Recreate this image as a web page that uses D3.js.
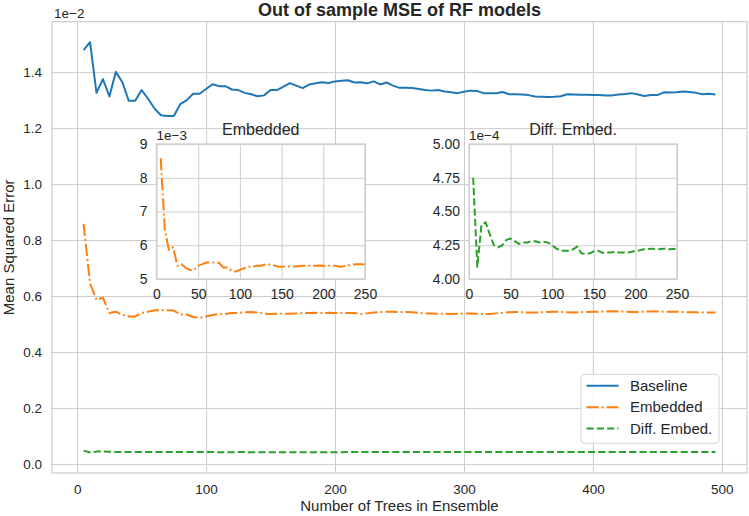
<!DOCTYPE html>
<html>
<head>
<meta charset="utf-8">
<script src="https://cdn.jsdelivr.net/npm/d3@7"></script>
<style>
  html, body { margin: 0; padding: 0; background: #fff; }
  svg { display: block; font-family: "Liberation Sans", Arial, sans-serif; }
</style>
</head>
<body>
<script>
// ---- Data ----
const trees = [5,10,15,20,25,30,35,40,45,50,55,60,65,70,75,80,85,90,95,100,
  105,110,115,120,125,130,135,140,145,150,155,160,165,170,175,180,185,190,195,200,
  205,210,215,220,225,230,235,240,245,250,255,260,265,270,275,280,285,290,295,300,
  305,310,315,320,325,330,335,340,345,350,355,360,365,370,375,380,385,390,395,400,
  405,410,415,420,425,430,435,440,445,450,455,460,465,470,475,480,485,490,495];

// Baseline MSE (x 1e-2)
const baselineE2 = [1.479,1.507,1.326,1.375,1.313,1.401,1.365,1.298,1.298,1.336,
  1.305,1.270,1.246,1.243,1.243,1.286,1.300,1.323,1.323,1.340,
  1.357,1.350,1.350,1.338,1.336,1.326,1.321,1.314,1.317,1.336,
  1.336,1.348,1.361,1.352,1.343,1.356,1.360,1.364,1.361,1.367,
  1.369,1.371,1.363,1.364,1.360,1.367,1.356,1.363,1.352,1.344,
  1.344,1.343,1.340,1.336,1.334,1.336,1.331,1.328,1.325,1.330,
  1.334,1.333,1.325,1.325,1.325,1.329,1.321,1.321,1.320,1.318,
  1.313,1.312,1.311,1.312,1.314,1.321,1.320,1.319,1.319,1.318,
  1.318,1.317,1.317,1.320,1.322,1.325,1.320,1.315,1.318,1.318,
  1.328,1.327,1.328,1.331,1.329,1.326,1.321,1.323,1.320];

// Embedded MSE (x 1e-3)
const embeddedE3 = [8.58,6.45,5.86,5.94,5.39,5.44,5.33,5.27,5.27,5.39,
  5.44,5.49,5.49,5.49,5.48,5.34,5.34,5.25,5.22,5.27,
  5.32,5.36,5.36,5.39,5.39,5.42,5.43,5.41,5.37,5.36,
  5.37,5.37,5.37,5.38,5.39,5.39,5.40,5.39,5.40,5.39,
  5.39,5.39,5.39,5.36,5.38,5.41,5.43,5.44,5.44,5.43,
  5.43,5.42,5.40,5.38,5.38,5.37,5.37,5.36,5.37,5.38,
  5.38,5.37,5.36,5.36,5.38,5.40,5.42,5.43,5.42,5.41,
  5.41,5.42,5.43,5.44,5.43,5.42,5.41,5.42,5.43,5.44,
  5.44,5.45,5.46,5.45,5.44,5.43,5.43,5.44,5.45,5.45,
  5.44,5.44,5.44,5.43,5.42,5.42,5.41,5.41,5.41];

// Diff. Embed. MSE (x 1e-4)
const diffEmbedE4 = [4.75,4.09,4.40,4.42,4.33,4.25,4.235,4.25,4.29,4.30,
  4.28,4.26,4.27,4.27,4.28,4.28,4.27,4.275,4.27,4.25,
  4.225,4.21,4.21,4.21,4.22,4.24,4.19,4.185,4.19,4.205,
  4.21,4.195,4.195,4.197,4.20,4.197,4.197,4.195,4.20,4.21,
  4.212,4.22,4.222,4.225,4.22,4.222,4.225,4.22,4.222,4.222,
  4.222,4.224,4.223,4.225,4.224,4.222,4.221,4.223,4.224,4.225,
  4.226,4.225,4.224,4.223,4.222,4.222,4.223,4.224,4.225,4.224,
  4.223,4.222,4.222,4.221,4.222,4.223,4.224,4.225,4.224,4.223,
  4.222,4.223,4.224,4.224,4.223,4.222,4.221,4.222,4.223,4.224,
  4.224,4.223,4.222,4.222,4.223,4.224,4.223,4.222,4.222];

const seriesNames = ["Baseline", "Embedded", "Diff. Embed."];
const mainXTicks = [0, 100, 200, 300, 400, 500];
const mainYTicks = [0.0, 0.2, 0.4, 0.6, 0.8, 1.0, 1.2, 1.4];   // x 1e-2
const embYTicks = [5, 6, 7, 8, 9];                               // x 1e-3
const diffYTicks = [4.00, 4.25, 4.50, 4.75, 5.00];               // x 1e-4
const insetXTicks = [0, 50, 100, 150, 200, 250];

// ---- Derived actual values ----
const baseline = baselineE2.map(v => v * 1e-2);
const embedded = embeddedE3.map(v => v * 1e-3);
const diffEmbed = diffEmbedE4.map(v => v * 1e-4);

const colors = ["#1f77b4", "#ff7f0e", "#2ca02c"];
const dashes = [null, "12.2,3,1.9,3", "7.2,3.1"];
const textColor = "#262626";
const gridColor = "#cccccc";
const font = '"Liberation Sans", Arial, sans-serif';

const W = 749, H = 516;
const svg = d3.select("body").append("svg").attr("width", W).attr("height", H);
svg.append("rect").attr("width", W).attr("height", H).attr("fill", "#fff");

const defs = svg.append("defs");

// ---- Main axes ----
const M = { left: 52, right: 747, top: 21.7, bottom: 473 };
const xPad = (d3.max(trees) - d3.min(trees)) * 0.05;
const x = d3.scaleLinear().domain([d3.min(trees) - xPad, d3.max(trees) + xPad]).range([M.left, M.right]);
const allVals = baseline.concat(embedded, diffEmbed);
const yMin = d3.min(allVals), yMax = d3.max(allVals), yPad = (yMax - yMin) * 0.05;
const y = d3.scaleLinear().domain([yMin - yPad, yMax + yPad]).range([M.bottom, M.top]);

const main = svg.append("g");
// grid
main.append("g").attr("transform", `translate(0,${M.bottom})`)
  .call(d3.axisBottom(x).tickValues(mainXTicks).tickSize(-(M.bottom - M.top)).tickFormat(d => d3.format("d")(d)).tickPadding(11))
  .call(g => g.select(".domain").remove())
  .call(g => g.selectAll(".tick line").attr("stroke", gridColor).attr("stroke-width", 1))
  .call(g => g.selectAll(".tick text").attr("fill", textColor).style("font-size", "13.5px").style("font-family", font));
main.append("g").attr("transform", `translate(${M.left},0)`)
  .call(d3.axisLeft(y).tickValues(mainYTicks.map(v => v * 1e-2)).tickSize(-(M.right - M.left)).tickFormat(d => d3.format(".1f")(d / 1e-2)).tickPadding(10))
  .call(g => g.select(".domain").remove())
  .call(g => g.selectAll(".tick line").attr("stroke", gridColor).attr("stroke-width", 1))
  .call(g => g.selectAll(".tick text").attr("fill", textColor).style("font-size", "13.5px").style("font-family", font));
// spines
main.append("rect").attr("x", M.left).attr("y", M.top).attr("width", M.right - M.left).attr("height", M.bottom - M.top)
  .attr("fill", "none").attr("stroke", gridColor).attr("stroke-width", 1.2);

defs.append("clipPath").attr("id", "clipMain").append("rect")
  .attr("x", M.left).attr("y", M.top).attr("width", M.right - M.left).attr("height", M.bottom - M.top);

const mainSeries = [baseline, embedded, diffEmbed];
const lineMain = d3.line().x((d, i) => x(trees[i])).y(d => y(d));
mainSeries.forEach((s, k) => {
  main.append("path").datum(s).attr("clip-path", "url(#clipMain)")
    .attr("d", lineMain).attr("fill", "none").attr("stroke", colors[k]).attr("stroke-width", 2)
    .attr("stroke-dasharray", dashes[k]).attr("stroke-linejoin", "round");
});

// title, labels, offset
svg.append("text").attr("x", (M.left + M.right) / 2).attr("y", 15.5).attr("text-anchor", "middle")
  .attr("fill", textColor).style("font-size", "18px").style("font-weight", "bold").text("Out of sample MSE of RF models");
svg.append("text").attr("x", M.left + 2).attr("y", 18).attr("fill", textColor).style("font-size", "13.5px").text("1e\u22122");
svg.append("text").attr("x", (M.left + M.right) / 2).attr("y", 511).attr("text-anchor", "middle")
  .attr("fill", textColor).style("font-size", "15px").text("Number of Trees in Ensemble");
svg.append("text").attr("transform", `translate(14,${(M.top + M.bottom) / 2}) rotate(-90)`).attr("text-anchor", "middle")
  .attr("fill", textColor).style("font-size", "15px").text("Mean Squared Error");

// ---- Insets ----
function inset(cfg) {
  const { x0, x1, y0, y1, vals, yDomain, yTicks, yFmt, color, dash, title, offset, id } = cfg;
  const g = svg.append("g");
  const xs = d3.scaleLinear().domain([0, 250]).range([x0, x1]);
  const ys = d3.scaleLinear().domain(yDomain).range([y1, y0]);
  g.append("rect").attr("x", x0).attr("y", y0).attr("width", x1 - x0).attr("height", y1 - y0).attr("fill", "#fff");
  g.append("g").attr("transform", `translate(0,${y1})`)
    .call(d3.axisBottom(xs).tickValues(insetXTicks).tickSize(-(y1 - y0)).tickFormat(d3.format("d")).tickPadding(10))
    .call(a => a.select(".domain").remove())
    .call(a => a.selectAll(".tick line").attr("stroke", gridColor))
    .call(a => a.selectAll(".tick text").attr("fill", textColor).style("font-size", "14px").style("font-family", font));
  g.append("g").attr("transform", `translate(${x0},0)`)
    .call(d3.axisLeft(ys).tickValues(yTicks).tickSize(-(x1 - x0)).tickFormat(yFmt).tickPadding(9))
    .call(a => a.select(".domain").remove())
    .call(a => a.selectAll(".tick line").attr("stroke", gridColor))
    .call(a => a.selectAll(".tick text").attr("fill", textColor).style("font-size", "14px").style("font-family", font));
  defs.append("clipPath").attr("id", id).append("rect").attr("x", x0).attr("y", y0).attr("width", x1 - x0).attr("height", y1 - y0);
  const pts = trees.map((t, i) => [t, vals[i]]).filter(p => p[0] <= 250);
  g.append("path").datum(pts).attr("clip-path", `url(#${id})`)
    .attr("d", d3.line().x(p => xs(p[0])).y(p => ys(p[1])))
    .attr("fill", "none").attr("stroke", color).attr("stroke-width", 2).attr("stroke-dasharray", dash)
    .attr("stroke-linejoin", "round");
  g.append("rect").attr("x", x0).attr("y", y0).attr("width", x1 - x0).attr("height", y1 - y0)
    .attr("fill", "none").attr("stroke", gridColor).attr("stroke-width", 1.2);
  g.append("text").attr("x", (x0 + x1) / 2).attr("y", y0 - 9).attr("text-anchor", "middle")
    .attr("fill", textColor).style("font-size", "16px").text(title);
  g.append("text").attr("x", x0).attr("y", y0 - 4).attr("fill", textColor).style("font-size", "13.5px").text(offset);
}

inset({ id: "clipEmb", x0: 156.5, x1: 365, y0: 144, y1: 279, vals: embeddedE3, yDomain: [5, 9],
  yTicks: embYTicks, yFmt: d3.format("d"), color: colors[1], dash: dashes[1], title: "Embedded", offset: "1e\u22123" });
inset({ id: "clipDiff", x0: 469, x1: 677, y0: 144, y1: 279, vals: diffEmbedE4, yDomain: [4, 5],
  yTicks: diffYTicks, yFmt: d3.format(".2f"), color: colors[2], dash: dashes[2], title: "Diff. Embed.", offset: "1e\u22124" });

// ---- Legend ----
const L = { x: 581, y: 374.3, w: 138, h: 69 };
const leg = svg.append("g");
leg.append("rect").attr("x", L.x).attr("y", L.y).attr("width", L.w).attr("height", L.h).attr("rx", 3.5)
  .attr("fill", "#fff").attr("fill-opacity", 0.8).attr("stroke", "#d6d6d6").attr("stroke-width", 1);
const rowY = [385.7, 407.2, 428.5];
seriesNames.forEach((name, k) => {
  leg.append("line").attr("x1", 586.5).attr("x2", 618.5).attr("y1", rowY[k]).attr("y2", rowY[k])
    .attr("stroke", colors[k]).attr("stroke-width", 2).attr("stroke-dasharray", dashes[k]);
  leg.append("text").attr("x", 630).attr("y", rowY[k] + 5.2).attr("fill", textColor)
    .style("font-size", "15px").text(name);
});
</script>
</body>
</html>
